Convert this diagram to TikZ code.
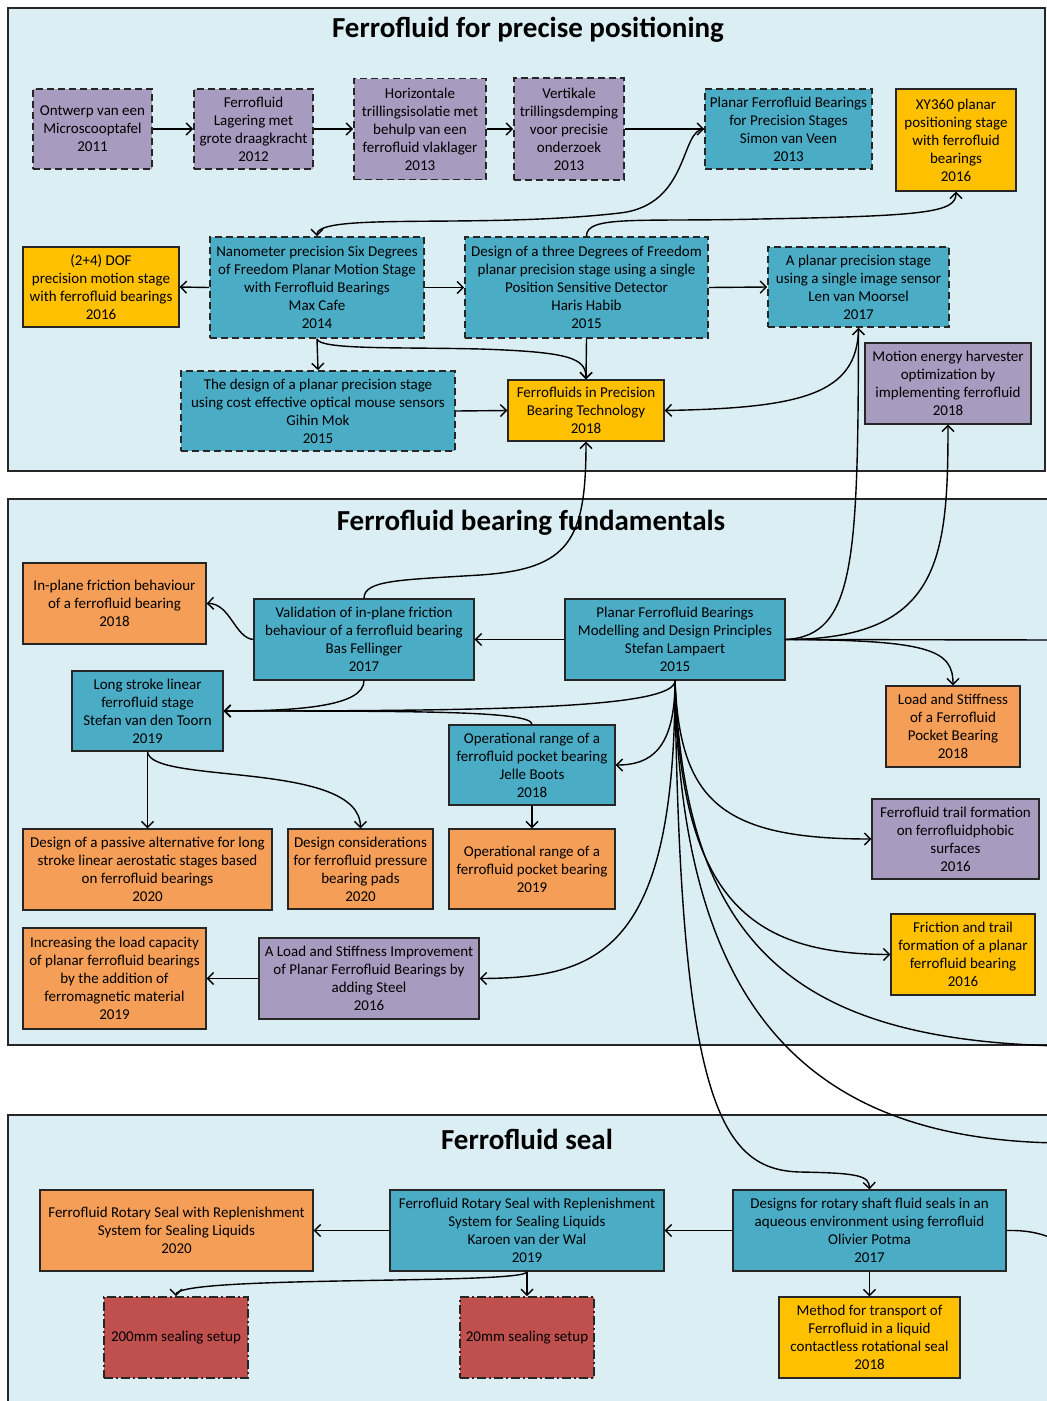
\documentclass[tikz,border=0pt]{standalone}
\usepackage{fontspec}
\setmainfont{Carlito}
\usetikzlibrary{arrows.meta}
\definecolor{panelF}{HTML}{DAEEF3}
\definecolor{lilac}{RGB}{168,155,192}
\definecolor{teal}{HTML}{4BACC6}
\definecolor{gold}{HTML}{FFC000}
\definecolor{peach}{HTML}{F59E58}
\definecolor{brick}{HTML}{C0504D}
\begin{document}
\begin{tikzpicture}[x=1pt,y=-1pt,
  box/.style={draw=black!85, line width=1.3pt, align=center, inner sep=1pt,
    font=\fontsize{15}{18}\selectfont, text=black},
  sz/.style 2 args={minimum width=#1, minimum height=#2},
  dashbox/.style={box, line width=1.7pt, dash pattern=on 7pt off 4pt},
  dotbox/.style={box, line width=1.7pt, dash pattern=on 9pt off 3pt on 2pt off 3pt},
  lil/.style={fill=lilac}, tea/.style={fill=teal}, gol/.style={fill=gold},
  pea/.style={fill=peach}, bri/.style={fill=brick},
  link/.style={line width=1.4pt, -{Straight Barb[length=6pt,width=12pt,line width=1.4pt]}},
  plain/.style={line width=1.4pt},
  panel/.style={fill=panelF, draw=black!85, line width=1.5pt},
  heading/.style={font=\fontsize{29}{34}\selectfont\bfseries, inner sep=0pt}
]
\clip (0,0) rectangle (1047,1401);
\fill[white] (0,0) rectangle (1047,1401);

% group panels
\draw[panel] (8,8) rectangle (1045,471);
\draw[panel] (8,499) rectangle (1070,1045);
\draw[panel] (8,1115) rectangle (1070,1430);
\node[heading] (t1) at (528,30) {Ferrofluid for precise positioning};
\node[heading] (t2) at (531,523) {Ferrofluid bearing fundamentals};
\node[heading] (t3) at (527,1139) {Ferrofluid seal};

% precise positioning
\node[dashbox,lil,sz={119}{80}] (a1) at (92.5,129) {Ontwerp van een\\Microscooptafel\\2011};
\node[dashbox,lil,sz={119}{80}] (a2) at (253.5,129) {Ferrofluid\\Lagering met\\grote draagkracht\\2012};
\node[dashbox,lil,sz={132}{101}] (a3) at (420,129) {Horizontale\\trillingsisolatie met\\behulp van een\\ferrofluid vlaklager\\2013};
\node[dashbox,lil,sz={110}{102}] (a4) at (569,129) {Vertikale\\trillingsdemping\\voor precisie\\onderzoek\\2013};
\node[dashbox,tea,sz={167}{80}] (a5) at (788.5,129) {Planar Ferrofluid Bearings\\for Precision Stages\\Simon van Veen\\2013};
\node[box,gol,sz={120}{102}] (a6) at (956,140) {XY360 planar\\positioning stage\\with ferrofluid\\bearings\\2016};

\node[box,gol,sz={156}{80}] (b1) at (101,287) {(2+4) DOF\\precision motion stage\\with ferrofluid bearings\\2016};
\node[dashbox,tea,sz={214}{101}] (b2) at (317,287.5) {Nanometer precision Six Degrees\\of Freedom Planar Motion Stage\\with Ferrofluid Bearings\\Max Cafe\\2014};
\node[dashbox,tea,sz={243}{101}] (b3) at (586.5,287.5) {Design of a three Degrees of Freedom\\planar precision stage using a single\\Position Sensitive Detector\\Haris Habib\\2015};
\node[dashbox,tea,sz={181}{80}] (b4) at (858.5,287) {A planar precision stage\\using a single image sensor\\Len van Moorsel\\2017};

\node[dashbox,tea,sz={274}{80}] (c1) at (318,411) {The design of a planar precision stage\\using cost effective optical mouse sensors\\Gihin Mok\\2015};
\node[box,gol,sz={156}{61}] (c2) at (586,410.5) {Ferrofluids in Precision\\Bearing Technology\\2018};
\node[box,lil,sz={166}{81}] (c3) at (948,383.5) {Motion energy harvester\\optimization by\\implementing ferrofluid\\2018};

% bearing fundamentals
\node[box,pea,sz={183}{81}] (d0) at (114.5,603.5) {In-plane friction behaviour\\of a ferrofluid bearing\\2018};
\node[box,tea,sz={220}{81}] (d1) at (364,639.5) {Validation of in-plane friction\\behaviour of a ferrofluid bearing\\Bas Fellinger\\2017};
\node[box,tea,sz={220}{81}] (d2) at (675,639.5) {Planar Ferrofluid Bearings\\Modelling and Design Principles\\Stefan Lampaert\\2015};
\node[box,pea,sz={134}{81}] (d3) at (953,726.5) {Load and Stiffness\\of a Ferrofluid\\Pocket Bearing\\2018};
\node[box,tea,sz={151}{80}] (e1) at (147.5,711) {Long stroke linear\\ferrofluid stage\\Stefan van den Toorn\\2019};
\node[box,tea,sz={166}{80}] (e2) at (532,765) {Operational range of a\\ferrofluid pocket bearing\\Jelle Boots\\2018};
\node[box,pea,sz={166}{80}] (e3) at (532,869) {Operational range of a\\ferrofluid pocket bearing\\2019};
\node[box,pea,sz={249}{81}] (f1) at (147.5,869.5) {Design of a passive alternative for long\\stroke linear aerostatic stages based\\on ferrofluid bearings\\2020};
\node[box,pea,sz={145}{80}] (f2) at (360.5,869) {Design considerations\\for ferrofluid pressure\\bearing pads\\2020};
\node[box,pea,sz={183}{101}] (g1) at (114.5,978.5) {Increasing the load capacity\\of planar ferrofluid bearings\\by the addition of\\ferromagnetic material\\2019};
\node[box,lil,sz={220}{81}] (g2) at (369,978.5) {A Load and Stiffness Improvement\\of Planar Ferrofluid Bearings by\\adding Steel\\2016};
\node[box,lil,sz={167}{80}] (h1) at (955.5,839) {Ferrofluid trail formation\\on ferrofluidphobic\\surfaces\\2016};
\node[box,gol,sz={144}{81}] (h2) at (963,954.5) {Friction and trail\\formation of a planar\\ferrofluid bearing\\2016};

% seal
\node[box,pea,sz={273}{81}] (j0) at (176.5,1230.5) {Ferrofluid Rotary Seal with Replenishment\\System for Sealing Liquids\\2020};
\node[box,tea,sz={274}{81}] (j1) at (527,1230.5) {Ferrofluid Rotary Seal with Replenishment\\System for Sealing Liquids\\Karoen van der Wal\\2019};
\node[box,tea,sz={273}{81}] (j2) at (869.5,1230.5) {Designs for rotary shaft fluid seals in an\\aqueous environment using ferrofluid\\Olivier Potma\\2017};
\node[dotbox,bri,sz={144}{81}] (k1) at (176,1337.5) {200mm sealing setup};
\node[dotbox,bri,sz={134}{81}] (k2) at (527,1337.5) {20mm sealing setup};
\node[box,gol,sz={181}{81}] (k3) at (869.5,1337.5) {Method for transport of\\Ferrofluid in a liquid\\contactless rotational seal\\2018};

% loose ends leaving the sheet on the right
\coordinate (r1) at (1060,640);
\coordinate (r2) at (1060,1046);
\coordinate (r3) at (1060,1143);
\coordinate (r4) at (1065,1244);

% connectors: precise positioning
\draw[link] (a1.east) -- (a2.west);
\draw[link] (a2.east) -- (a3.west);
\draw[link] (a3.east) -- (a4.west);
\draw[link] (a4.east) -- (a5.west);
\draw[link] (a5.west) .. controls (680,129) and (690,205) .. (620,213)
  .. controls (480,229) and (317,212) .. (b2.north);
\draw[link] (b3.north) .. controls (586,215) and (640,222) .. (760,219)
  .. controls (930,216) and (956,212) .. (a6.south);
\draw[link] (b2.west) -- (b1.east);
\draw[link] (b2.east) -- (b3.west);
\draw[link] (b3.east) -- (b4.west);
\draw[link] (b2.south) -- (c1.north);
\draw[link] (b2.south) .. controls (319,350) and (400,347) .. (480,349)
  .. controls (570,352) and (586,358) .. (c2.north);
\draw[link] (b3.south) -- (c2.north);
\draw[link] (c1.east) -- (c2.west);
\draw[link] (b4.south) .. controls (858,395) and (800,408) .. (c2.east);

% connectors: bearing fundamentals
\draw[link] (d2.east) .. controls (855,636) and (858,560) .. (b4.south);
\draw[link] (d2.east) .. controls (940,639) and (948,560) .. (c3.south);
\draw[plain] (d2.east) -- (r1);
\draw[link] (d2.east) .. controls (930,640) and (953,650) .. (d3.north);
\draw[link] (d2.west) -- (d1.east);
\draw[link] (d1.west) .. controls (235,638) and (230,603) .. (d0.east);
\draw[link] (d1.north) .. controls (364,580) and (400,580) .. (480,575)
  .. controls (570,569) and (586,540) .. (c2.south);
\draw[link] (d1.south) .. controls (364,706) and (300,711) .. (e1.east);
\draw[link] (d2.south) .. controls (675,708) and (500,711) .. (e1.east);
\draw[link] (e2.north) .. controls (532,711) and (420,711) .. (e1.east);
\draw[link] (d2.south) .. controls (675,750) and (650,765) .. (e2.east);
\draw[link] (e2.south) -- (e3.north);
\draw[link] (e1.south) -- (f1.north);
\draw[link] (e1.south) .. controls (150,785) and (360,760) .. (f2.north);
\draw[link] (d2.south) .. controls (675,950) and (600,978) .. (g2.east);
\draw[link] (g2.west) -- (g1.east);
\draw[link] (d2.south) .. controls (680,800) and (720,839) .. (h1.west);
\draw[link] (d2.south) .. controls (680,900) and (750,954) .. (h2.west);
\draw[plain] (d2.south) .. controls (685,950) and (800,1040) .. (r2);
\draw[plain] (d2.south) .. controls (680,1000) and (800,1140) .. (r3);
\draw[link] (d2.south) .. controls (680,1100) and (720,1170) .. (800,1172)
  .. controls (860,1173) and (869,1176) .. (j2.north);

% connectors: seal
\draw[link] (j2.west) -- (j1.east);
\draw[link] (j1.west) -- (j0.east);
\draw[plain] (j2.east) .. controls (1030,1230) and (1045,1234) .. (r4);
\draw[link] (j2.south) -- (k3.north);
\draw[link] (j1.south) .. controls (527,1285) and (176,1275) .. (k1.north);
\draw[link] (j1.south) -- (k2.north);
\end{tikzpicture}
\end{document}
